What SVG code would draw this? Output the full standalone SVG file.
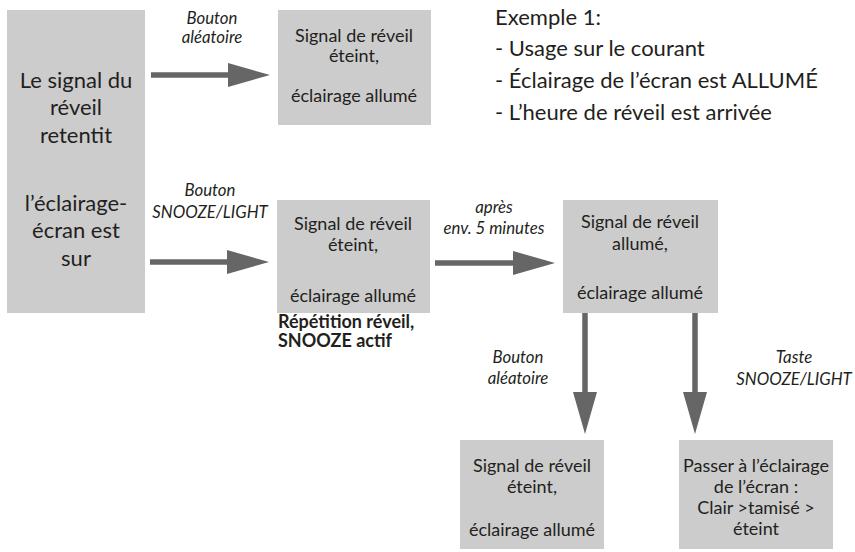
<svg xmlns="http://www.w3.org/2000/svg" width="855" height="552" viewBox="0 0 855 552">
<style>
.box{fill:#cccccc}
.t{font-family:Lato,"Open Sans","Liberation Sans",sans-serif;fill:#231f20;text-anchor:middle}
.b{font-size:18px}
.big{font-size:22px}
.lab{font-size:16.8px;font-style:italic}
.line{stroke:#666666;stroke-width:5.5;fill:none}
.head{fill:#666666}
</style>
<rect width="855" height="552" fill="#ffffff"/>
<g id="start">
<rect class="box" x="7" y="10" width="138" height="303"/>
<text class="t big" x="76"><tspan x="76" y="88">Le signal du</tspan><tspan x="76" y="115">réveil</tspan><tspan x="76" y="143">retentit</tspan><tspan x="76" y="211">l’éclairage-</tspan><tspan x="76" y="238">écran est</tspan><tspan x="76" y="266">sur</tspan></text>
</g>
<g id="box1">
<rect class="box" x="278" y="10" width="153" height="115"/>
<text class="t b"><tspan x="354" y="42">Signal de réveil</tspan><tspan x="354" y="62">éteint,</tspan><tspan x="354" y="102">éclairage allumé</tspan></text>
</g>
<g id="box2">
<rect class="box" x="277" y="200" width="153" height="113"/>
<text class="t b"><tspan x="353" y="230">Signal de réveil</tspan><tspan x="353" y="251">éteint,</tspan><tspan x="353" y="302">éclairage allumé</tspan></text>
</g>
<g id="box3">
<rect class="box" x="563" y="200" width="155" height="113"/>
<text class="t b"><tspan x="640" y="228">Signal de réveil</tspan><tspan x="640" y="250">allumé,</tspan><tspan x="640" y="299">éclairage allumé</tspan></text>
</g>
<g id="box4">
<rect class="box" x="460" y="440" width="144" height="109"/>
<text class="t b"><tspan x="532" y="472">Signal de réveil</tspan><tspan x="532" y="493">éteint,</tspan><tspan x="532" y="536">éclairage allumé</tspan></text>
</g>
<g id="box5">
<rect class="box" x="679" y="440" width="154" height="109"/>
<text class="t b"><tspan x="756" y="472">Passer à l’éclairage</tspan><tspan x="756" y="493">de l’écran :</tspan><tspan x="756" y="514">Clair &gt;tamisé &gt;</tspan><tspan x="756" y="535">éteint</tspan></text>
</g>
<g id="notes">
<text class="t big" style="text-anchor:start"><tspan x="495" y="25">Exemple 1:</tspan><tspan x="495" y="56">- Usage sur le courant</tspan><tspan x="495" y="88">- Éclairage de l’écran est ALLUMÉ</tspan><tspan x="495" y="120">- L’heure de réveil est arrivée</tspan></text>
<text class="t" style="font-size:18px;font-weight:bold;text-anchor:start"><tspan x="278" y="328">Répétition réveil,</tspan><tspan x="278" y="347">SNOOZE actif</tspan></text>
</g>
<g id="connectors">
<line class="line" x1="151" y1="75" x2="230" y2="75"/>
<polygon class="head" points="228,63 270,75 228,87"/>
<line class="line" x1="150" y1="262" x2="229" y2="262"/>
<polygon class="head" points="227,250 269,262 227,274"/>
<line class="line" x1="435" y1="263" x2="515" y2="263"/>
<polygon class="head" points="513,251 555,263 513,275"/>
<line class="line" x1="585" y1="313" x2="585" y2="394"/>
<polygon class="head" points="573,392 585,434 597,392"/>
<line class="line" x1="695" y1="313" x2="695" y2="394"/>
<polygon class="head" points="683,392 695,434 707,392"/>
<text class="t lab"><tspan x="212" y="24">Bouton</tspan><tspan x="212" y="43">aléatoire</tspan></text>
<text class="t lab"><tspan x="210" y="196">Bouton</tspan><tspan x="210" y="218">SNOOZE/LIGHT</tspan></text>
<text class="t lab"><tspan x="494" y="213">après</tspan><tspan x="494" y="234">env. 5 minutes</tspan></text>
<text class="t lab"><tspan x="518" y="363">Bouton</tspan><tspan x="518" y="384">aléatoire</tspan></text>
<text class="t lab"><tspan x="794" y="363">Taste</tspan><tspan x="794" y="385">SNOOZE/LIGHT</tspan></text>
</g>
</svg>
